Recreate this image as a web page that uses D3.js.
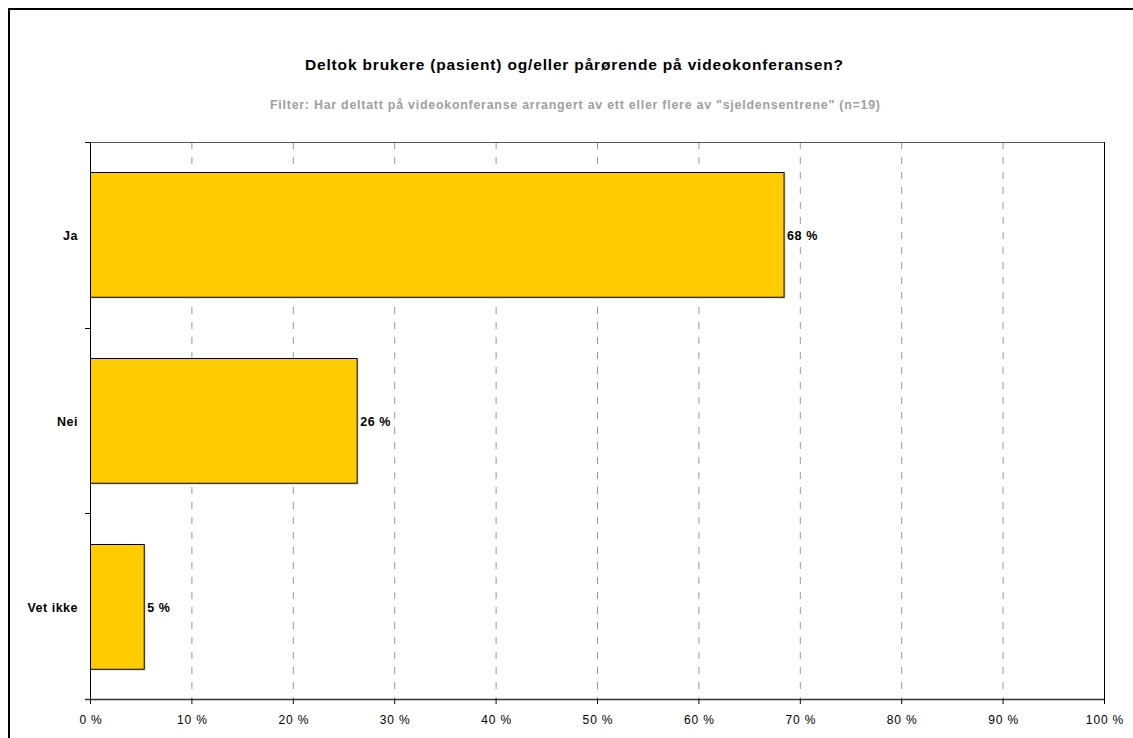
<!DOCTYPE html>
<html><head><meta charset="utf-8">
<script src="https://cdn.jsdelivr.net/npm/d3@7"></script>
<style>
body{margin:0;background:#fff;}
svg{display:block;font-family:"Liberation Sans",Arial,sans-serif;}
</style></head>
<body>
<svg id="chart" width="1133" height="738"></svg>
<script>
const categories = ["Ja", "Nei", "Vet ikke"];
const values = [68.4, 26.3, 5.3];
const valueLabels = ["68 %", "26 %", "5 %"];
const xTicks = [0,10,20,30,40,50,60,70,80,90,100];
const title = "Deltok brukere (pasient) og/eller pårørende på videokonferansen?";
const subtitle = "Filter: Har deltatt på videokonferanse arrangert av ett eller flere av \"sjeldensentrene\" (n=19)";

const svg = d3.select("#chart");
const W = 1133, H = 738;
const m = {left:90, right:1104, top:142, bottom:699};
const LS = 0.85;

// outer border
svg.append("rect").attr("x",9).attr("y",9).attr("width",W+20).attr("height",H+20)
  .attr("fill","none").attr("stroke","#000").attr("stroke-width",2);

svg.append("text").attr("x",305).attr("y",70)
  .attr("font-size",15.5).attr("font-weight","bold").attr("fill","#000")
  .attr("textLength",538).attr("lengthAdjust","spacing").text(title);
svg.append("text").attr("x",270).attr("y",109)
  .attr("font-size",12.4).attr("font-weight","bold").attr("fill","#a0a0a0")
  .attr("textLength",610).attr("lengthAdjust","spacing").text(subtitle);

const x = d3.scaleLinear().domain([0,100]).range([m.left, m.right]);
const y = d3.scaleBand().domain(categories).range([m.top, m.bottom]).padding(0);

// gridlines
svg.append("g").selectAll("line").data(xTicks.filter(t=>t>0 && t<100)).join("line")
  .attr("x1",d=>x(d)+0.5).attr("x2",d=>x(d)+0.5).attr("y1",m.top).attr("y2",m.bottom)
  .attr("stroke","#999").attr("stroke-width",1).attr("stroke-dasharray","7,8");

// plot border top/right
svg.append("line").attr("x1",m.left).attr("x2",m.right).attr("y1",m.top+0.5).attr("y2",m.top+0.5)
  .attr("stroke","#555").attr("stroke-width",1);
svg.append("line").attr("x1",m.right+0.5).attr("x2",m.right+0.5).attr("y1",m.top).attr("y2",m.bottom)
  .attr("stroke","#000").attr("stroke-width",1);

// bars
const bw = y.bandwidth();
const bh = bw*0.672;
const g = svg.append("g");
g.selectAll("rect.sh").data(values).join("rect").attr("class","sh")
  .attr("x",x(0)+2).attr("y",(d,i)=>Math.round(y(categories[i])+(bw-bh)/2)+2)
  .attr("width",d=>x(d)-x(0)).attr("height",bh).attr("fill","#e0e0e0");
g.selectAll("rect.bar").data(values).join("rect").attr("class","bar")
  .attr("x",x(0)+0.5).attr("y",(d,i)=>Math.round(y(categories[i])+(bw-bh)/2)+0.5)
  .attr("width",d=>x(d)-x(0)).attr("height",bh)
  .attr("fill","#FFCC00").attr("stroke","#000").attr("stroke-width",1);
g.selectAll("text.val").data(values).join("text").attr("class","val")
  .attr("x",d=>x(d)+3.5).attr("y",(d,i)=>y(categories[i])+bw/2+5.5)
  .attr("font-size",12.5).attr("font-weight","bold").attr("fill","#000")
  .attr("letter-spacing",0.6)
  .text((d,i)=>valueLabels[i]);

// y axis
const yAxis = svg.append("g");
yAxis.append("line").attr("x1",m.left+0.5).attr("x2",m.left+0.5).attr("y1",m.top).attr("y2",m.bottom)
  .attr("stroke","#000").attr("stroke-width",1);
const bounds = categories.map(c=>y(c)).concat([m.bottom]);
yAxis.selectAll("line.tk").data(bounds).join("line").attr("class","tk")
  .attr("x1",m.left-5).attr("x2",m.left).attr("y1",d=>Math.round(d)+0.5).attr("y2",d=>Math.round(d)+0.5)
  .attr("stroke","#000");
yAxis.selectAll("text").data(categories).join("text")
  .attr("x",78).attr("y",c=>y(c)+bw/2+5.5).attr("text-anchor","end")
  .attr("font-size",12.5).attr("font-weight","bold").attr("fill","#000")
  .attr("letter-spacing",0.5).text(c=>c);

// x axis
const xAxis = svg.append("g");
xAxis.append("line").attr("x1",m.left-5).attr("x2",m.right).attr("y1",m.bottom+0.5).attr("y2",m.bottom+0.5)
  .attr("stroke","#333").attr("stroke-width",1.5);
xAxis.selectAll("line.tk").data(xTicks).join("line").attr("class","tk")
  .attr("x1",d=>x(d)+0.5).attr("x2",d=>x(d)+0.5).attr("y1",m.bottom).attr("y2",m.bottom+5)
  .attr("stroke","#000");
xAxis.selectAll("text").data(xTicks).join("text")
  .attr("x",d=>x(d)+1).attr("y",724).attr("text-anchor","middle")
  .attr("font-size",12).attr("fill","#000").attr("letter-spacing",LS).text(d=>d+" %");
</script>
</body></html>
